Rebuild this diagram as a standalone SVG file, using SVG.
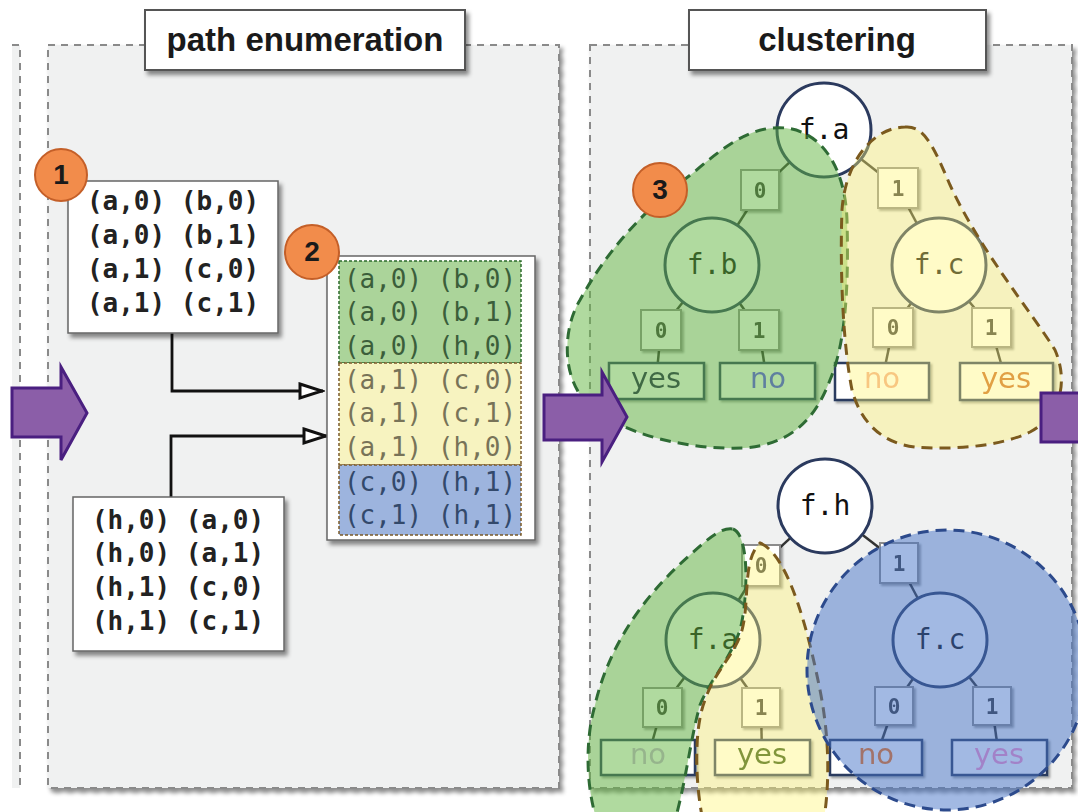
<svg xmlns="http://www.w3.org/2000/svg" width="1078" height="812" viewBox="0 0 1078 812">
<defs>
<style>
.panel{fill:#f0f1f1;stroke:#8a8a8a;stroke-width:2;stroke-dasharray:7 6}
.title{fill:#fff;stroke:#555;stroke-width:2}
.ttl{font-family:"Liberation Sans",Arial,sans-serif;font-weight:bold;font-size:33px;fill:#1a1a1a;text-anchor:middle}
.box{fill:#fff;stroke:#666;stroke-width:1.5}
.mb{font-family:"DejaVu Sans Mono","Liberation Mono",monospace;font-weight:bold;font-size:26px;fill:#222;text-anchor:middle}
.mr{font-family:"DejaVu Sans Mono","Liberation Mono",monospace;font-size:26px;text-anchor:middle}
.badge{fill:#f28c4b;stroke:#c45f28;stroke-width:2}
.bt{font-family:"Liberation Sans",Arial,sans-serif;font-weight:bold;font-size:28px;fill:#1a1a1a;text-anchor:middle}
.arrow{fill:#8b5ea8;stroke:#4a1f80;stroke-width:3;stroke-linejoin:miter}
.conn{fill:none;stroke:#111;stroke-width:2.8}
.edge{stroke:#333;stroke-width:2.5}
.circ{fill:#fff;stroke:#2b3a5e;stroke-width:3}
.ct{font-family:"DejaVu Sans Mono","Liberation Mono",monospace;font-size:28px;fill:#111;text-anchor:middle}
.lab{fill:#fff;stroke:#8c8c8c;stroke-width:2}
.lt{font-family:"DejaVu Sans Mono","Liberation Mono",monospace;font-size:21px;font-weight:bold;fill:#3a3a3a;text-anchor:middle}
.leaf{fill:#fff;stroke:#2b3a5e;stroke-width:2.5}
.lf{font-family:"DejaVu Sans","Liberation Sans",sans-serif;font-size:29px;text-anchor:middle}
.bg{fill:#62b53f;fill-opacity:.5;stroke:#2e6b34;stroke-width:3;stroke-dasharray:11 7}
.by{fill:#fff674;fill-opacity:.4;stroke:#7b5a1e;stroke-width:3;stroke-dasharray:11 7}
.bb{fill:#4673c7;fill-opacity:.5;stroke:#2c4a8c;stroke-width:3;stroke-dasharray:11 7}
</style>
<filter id="sh" x="-10%" y="-10%" width="130%" height="130%"><feDropShadow dx="3" dy="4" stdDeviation="2" flood-color="#000" flood-opacity="0.45"/></filter>
<filter id="ss" x="-20%" y="-20%" width="150%" height="150%"><feDropShadow dx="2" dy="2" stdDeviation="1.2" flood-color="#000" flood-opacity="0.35"/></filter>
<marker id="tri" markerUnits="userSpaceOnUse" viewBox="0 0 28 20" markerWidth="28" markerHeight="20" refX="26" refY="10" orient="auto">
<path d="M3,3 L25,10 L3,17 Z" fill="#fff" stroke="#111" stroke-width="3" stroke-linejoin="miter"/>
</marker>
</defs>
<rect width="1078" height="812" fill="#fff"/>

<g id="panels">
<rect x="12" y="45" width="8" height="743" fill="#f0f1f1"/>
<path d="M12,45 H20 V788" fill="none" stroke="#8a8a8a" stroke-width="2" stroke-dasharray="7 6"/>
<rect class="panel" x="48" y="45" width="511" height="743" filter="url(#sh)"/>
<rect class="panel" x="590" y="45" width="482" height="743" filter="url(#sh)"/>
</g>

<g id="title-path">
<rect class="title" x="145" y="10" width="320" height="60" filter="url(#sh)"/>
<text class="ttl" x="305" y="51">path enumeration</text>
</g>
<g id="title-clustering">
<rect class="title" x="689" y="10" width="297" height="60" filter="url(#sh)"/>
<text class="ttl" x="837" y="51">clustering</text>
</g>

<g id="connectors">
<path class="conn" d="M172,333 V391 H323" marker-end="url(#tri)"/>
<path class="conn" d="M171,497 V436 H327" marker-end="url(#tri)"/>
<line class="edge" x1="824" y1="130" x2="760" y2="190"/>
<line class="edge" x1="824" y1="130" x2="898" y2="188"/>
<line class="edge" x1="760" y1="190" x2="712" y2="265"/>
<line class="edge" x1="898" y1="188" x2="939" y2="265"/>
<line class="edge" x1="712" y1="265" x2="661" y2="330"/>
<line class="edge" x1="712" y1="265" x2="759" y2="330"/>
<line class="edge" x1="661" y1="330" x2="656" y2="381"/>
<line class="edge" x1="759" y1="330" x2="767" y2="381"/>
<line class="edge" x1="939" y1="265" x2="893" y2="328"/>
<line class="edge" x1="939" y1="265" x2="991" y2="328"/>
<line class="edge" x1="893" y1="328" x2="882" y2="381"/>
<line class="edge" x1="991" y1="328" x2="1006" y2="381"/>
<line class="edge" x1="825" y1="506" x2="761" y2="565"/>
<line class="edge" x1="825" y1="506" x2="899" y2="563"/>
<line class="edge" x1="761" y1="565" x2="713" y2="640"/>
<line class="edge" x1="899" y1="563" x2="940" y2="640"/>
<line class="edge" x1="713" y1="640" x2="662" y2="707"/>
<line class="edge" x1="713" y1="640" x2="761" y2="707"/>
<line class="edge" x1="662" y1="707" x2="648" y2="757"/>
<line class="edge" x1="761" y1="707" x2="762" y2="757"/>
<line class="edge" x1="940" y1="640" x2="894" y2="706"/>
<line class="edge" x1="940" y1="640" x2="992" y2="706"/>
<line class="edge" x1="894" y1="706" x2="876" y2="757"/>
<line class="edge" x1="992" y1="706" x2="999" y2="757"/>
</g>

<g id="paths-a">
<rect class="box" x="68" y="181" width="210" height="152" filter="url(#sh)"/>
<text class="mb" x="173" y="210">(a,0) (b,0)</text>
<text class="mb" x="173" y="244">(a,0) (b,1)</text>
<text class="mb" x="173" y="278">(a,1) (c,0)</text>
<text class="mb" x="173" y="312">(a,1) (c,1)</text>
</g>
<g id="paths-h">
<rect class="box" x="73" y="497" width="211" height="154" filter="url(#sh)"/>
<text class="mb" x="178" y="529">(h,0) (a,0)</text>
<text class="mb" x="178" y="562">(h,0) (a,1)</text>
<text class="mb" x="178" y="596">(h,1) (c,0)</text>
<text class="mb" x="178" y="630">(h,1) (c,1)</text>
</g>
<g id="paths-merged">
<rect class="box" x="327" y="256" width="208" height="284" filter="url(#sh)"/>
<rect x="339" y="261" width="182" height="102" fill="#abd49a" stroke="#2c6a2c" stroke-width="1.5" stroke-dasharray="3 2"/>
<rect x="339" y="363" width="182" height="102" fill="#f7f3c0" stroke="#7a5a2a" stroke-width="1.5" stroke-dasharray="3 2"/>
<rect x="339" y="465" width="182" height="70" fill="#9db4de" stroke="#7a5a2a" stroke-width="1.5" stroke-dasharray="3 2"/>
<text class="mr" x="430" y="288" fill="#3b5e3a">(a,0) (b,0)</text>
<text class="mr" x="430" y="321" fill="#3b5e3a">(a,0) (b,1)</text>
<text class="mr" x="430" y="355" fill="#3b5e3a">(a,0) (h,0)</text>
<text class="mr" x="430" y="389" fill="#787358">(a,1) (c,0)</text>
<text class="mr" x="430" y="422" fill="#787358">(a,1) (c,1)</text>
<text class="mr" x="430" y="456" fill="#787358">(a,1) (h,0)</text>
<text class="mr" x="430" y="491" fill="#33496b">(c,0) (h,1)</text>
<text class="mr" x="430" y="524" fill="#33496b">(c,1) (h,1)</text>
</g>

<g id="tree-top">
<g id="t1-fa"><circle class="circ" cx="824" cy="130" r="47"/><text class="ct" x="824" y="139">f.a</text></g>
<g id="t1-e0" filter="url(#ss)"><rect class="lab" x="741" y="170" width="38" height="40"/><text class="lt" x="760" y="198">0</text></g>
<g id="t1-e1" filter="url(#ss)"><rect class="lab" x="878" y="168" width="40" height="40"/><text class="lt" x="898" y="196">1</text></g>
<g id="t1-fb"><circle class="circ" cx="712" cy="265" r="47"/><text class="ct" x="712" y="274">f.b</text></g>
<g id="t1-fc"><circle class="circ" cx="939" cy="265" r="47"/><text class="ct" x="939" y="274">f.c</text></g>
<g id="t1-fb0" filter="url(#ss)"><rect class="lab" x="641" y="310" width="40" height="40"/><text class="lt" x="661" y="338">0</text></g>
<g id="t1-fb1" filter="url(#ss)"><rect class="lab" x="739" y="310" width="40" height="40"/><text class="lt" x="759" y="338">1</text></g>
<g id="t1-fc0" filter="url(#ss)"><rect class="lab" x="873" y="308" width="40" height="39"/><text class="lt" x="893" y="335">0</text></g>
<g id="t1-fc1" filter="url(#ss)"><rect class="lab" x="972" y="308" width="39" height="39"/><text class="lt" x="991" y="335">1</text></g>
<g id="t1-yes1" filter="url(#ss)"><rect class="leaf" x="609" y="363" width="95" height="36"/><text class="lf" x="656" y="388" fill="#1a1a4a">yes</text></g>
<g id="t1-no1" filter="url(#ss)"><rect class="leaf" x="720" y="363" width="95" height="36"/><text class="lf" x="768" y="388" fill="#5c49ff">no</text></g>
<g id="t1-no2" filter="url(#ss)"><rect class="leaf" x="835" y="363" width="94" height="37"/><text class="lf" x="882" y="388" fill="#f3a98b">no</text></g>
<g id="t1-yes2" filter="url(#ss)"><rect class="leaf" x="960" y="363" width="93" height="37"/><text class="lf" x="1006" y="388" fill="#cd6727">yes</text></g>
</g>

<g id="tree-bottom">
<g id="t2-fh"><circle class="circ" cx="825" cy="506" r="47"/><text class="ct" x="825" y="515">f.h</text></g>
<g id="t2-e0" filter="url(#ss)"><rect class="lab" x="742" y="545" width="38" height="41"/><text class="lt" x="761" y="573">0</text></g>
<g id="t2-e1" filter="url(#ss)"><rect class="lab" x="880" y="543" width="38" height="40"/><text class="lt" x="899" y="571">1</text></g>
<g id="t2-fa"><circle class="circ" cx="713" cy="640" r="47"/><text class="ct" x="713" y="649">f.a</text></g>
<g id="t2-fc"><circle class="circ" cx="940" cy="640" r="47"/><text class="ct" x="940" y="649">f.c</text></g>
<g id="t2-fa0" filter="url(#ss)"><rect class="lab" x="643" y="688" width="39" height="39"/><text class="lt" x="662" y="715">0</text></g>
<g id="t2-fa1" filter="url(#ss)"><rect class="lab" x="742" y="688" width="38" height="39"/><text class="lt" x="761" y="715">1</text></g>
<g id="t2-fc0" filter="url(#ss)"><rect class="lab" x="875" y="687" width="38" height="38"/><text class="lt" x="894" y="714">0</text></g>
<g id="t2-fc1" filter="url(#ss)"><rect class="lab" x="973" y="687" width="38" height="38"/><text class="lt" x="992" y="714">1</text></g>
<g id="t2-no1" filter="url(#ss)"><rect class="leaf" x="601" y="740" width="94" height="35"/><text class="lf" x="648" y="764" fill="#cab3d9">no</text></g>
<g id="t2-yes1" filter="url(#ss)"><rect class="leaf" x="715" y="740" width="95" height="35"/><text class="lf" x="762" y="764" fill="#2f5617">yes</text></g>
<g id="t2-no2" filter="url(#ss)"><rect class="leaf" x="830" y="740" width="92" height="35"/><text class="lf" x="876" y="764" fill="#ff730b">no</text></g>
<g id="t2-yes2" filter="url(#ss)"><rect class="leaf" x="952" y="740" width="95" height="35"/><text class="lf" x="999" y="764" fill="#ff91c9">yes</text></g>
</g>

<g id="clusters">
<path id="c-green-top" class="bg" d="M773,128 C815,124 845,160 847,220 C849,290 845,345 830,380 C815,420 790,445 743,448 C690,450 620,435 587,403 C562,378 562,330 580,300 C610,245 650,205 693,173 C720,150 745,130 773,128 Z"/>
<path id="c-yellow-top" class="by" d="M905,127 C925,125 935,150 950,185 C980,250 1030,310 1055,350 C1068,380 1062,415 1030,432 C1000,447 950,450 915,447 C880,443 860,420 852,390 C842,340 840,260 842,210 C845,165 870,128 905,127 Z"/>
<path id="c-green-bot" class="bg" d="M733,529 C750,535 748,600 740,630 C730,660 710,680 700,705 C690,740 685,790 672,830 L600,830 C585,790 585,740 595,705 C610,640 650,590 690,555 C710,537 722,527 733,529 Z"/>
<path id="c-yellow-bot" class="by" d="M760,543 C790,555 810,640 820,690 C830,740 830,790 822,830 L705,830 C695,790 693,730 705,700 C715,670 735,655 742,630 C750,600 742,560 760,543 Z"/>
<circle id="c-blue-bot" class="bb" cx="947" cy="670" r="140"/>
</g>

<g id="flow-arrows">
<path class="arrow" d="M12,388 H61 V367 L87,413 L61,460 V437 H12 Z"/>
<path class="arrow" d="M544,395 H602 V372 L627,417 L602,462 V440 H544 Z"/>
<path class="arrow" d="M1041,393 H1090 V442 H1041 Z"/>
</g>

<g id="badge-1"><circle class="badge" cx="61" cy="175" r="26"/><text class="bt" x="61" y="184">1</text></g>
<g id="badge-2"><circle class="badge" cx="312" cy="252" r="27"/><text class="bt" x="312" y="261">2</text></g>
<g id="badge-3"><circle class="badge" cx="660" cy="190" r="27"/><text class="bt" x="660" y="199">3</text></g>
</svg>
